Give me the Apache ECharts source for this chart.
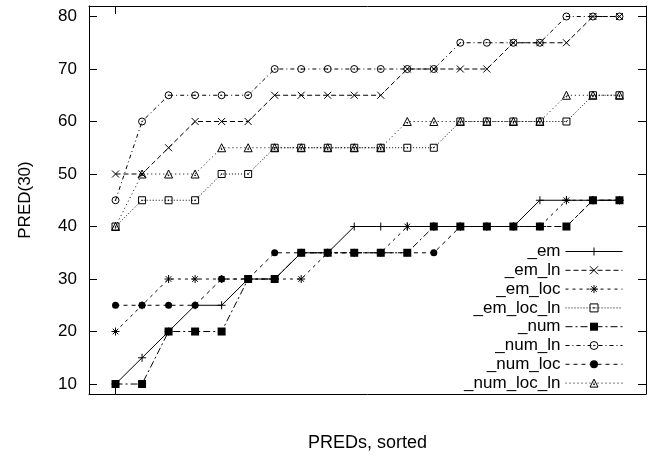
<!DOCTYPE html>
<html>
<head>
<meta charset="utf-8">
<script src="https://cdn.jsdelivr.net/npm/echarts@6/dist/echarts.min.js"></script>
<style>html,body{margin:0;padding:0;background:#fff;}#c{width:656px;height:457px;}</style>
</head>
<body>
<div id="c"></div>
<script>
// position along the sorted x axis (1..20)
const positions = [1,2,3,4,5,6,7,8,9,10,11,12,13,14,15,16,17,18,19,20];
const yTicks = [10,20,30,40,50,60,70,80];
const xTicks = [1];
const seriesNames = ['_em','_em_ln','_em_loc','_em_loc_ln','_num','_num_ln','_num_loc','_num_loc_ln'];

const em         = [10,15,20,25,25,30,30,35,35,40,40,40,40,40,40,40,45,45,45,45];
const em_ln      = [50,50,55,60,60,60,65,65,65,65,65,70,70,70,70,75,75,75,80,80];
const em_loc     = [20,25,30,30,30,30,30,30,35,35,35,40,40,40,40,40,40,45,45,45];
const em_loc_ln  = [40,45,45,45,50,50,55,55,55,55,55,55,55,60,60,60,60,60,65,65];
const num        = [10,10,20,20,20,30,30,35,35,35,35,35,40,40,40,40,40,40,45,45];
const num_ln     = [45,60,65,65,65,65,70,70,70,70,70,70,70,75,75,75,75,80,80,80];
const num_loc    = [25,25,25,25,30,30,35,35,35,35,35,35,35,40,40,40,40,40,45,45];
const num_loc_ln = [40,50,50,50,55,55,55,55,55,55,55,60,60,60,60,60,60,65,65,65];

const values = [em, em_ln, em_loc, em_loc_ln, num, num_ln, num_loc, num_loc_ln];

const FONT = '"Liberation Sans", Arial, Helvetica, sans-serif';
const open = {color:'transparent', borderColor:'#000', borderWidth:1};
const filled = {color:'#000', borderColor:'#000', borderWidth:0};
const styles = [
  {symbol:'path://M0,5L10,5M5,0L5,10', size:8, item:open, dash:'solid'},
  {symbol:'path://M0,0L10,10M0,10L10,0', size:7, item:open, dash:[5,3]},
  {symbol:'path://M0,5L10,5M5,0L5,10M1.5,1.5L8.5,8.5M1.5,8.5L8.5,1.5', size:8, item:open, dash:[3,4]},
  {symbol:'path://M0,0L10,0L10,10L0,10ZM4.6,4.6L5.4,4.6L5.4,5.4L4.6,5.4Z', size:7, item:open, dash:[1,2]},
  {symbol:'rect', size:8, item:filled, dash:[7,3,2,3]},
  {symbol:'path://M0,5A5,5 0 1,0 10,5A5,5 0 1,0 0,5ZM4.6,4.6L5.4,4.6L5.4,5.4L4.6,5.4Z', size:7, item:open, dash:[4,3,1,3]},
  {symbol:'circle', size:7, item:filled, dash:[4,4]},
  {symbol:'path://M5,0L10,9L0,9ZM4.6,5.6L5.4,5.6L5.4,6.4L4.6,6.4Z', size:8, item:open, dash:[1,3]}
];

const series = seriesNames.map((name, i) => ({
  name: name,
  type: 'line',
  data: positions.map((p, j) => [p, values[i][j]]),
  symbol: styles[i].symbol,
  symbolSize: styles[i].size,
  showSymbol: true,
  showAllSymbol: true,
  itemStyle: styles[i].item,
  lineStyle: {color:'#000', width:1, type: styles[i].dash},
  emphasis: {disabled:true},
  animation: false
}));

const legendData = seriesNames.map((name, i) => ({
  name: name,
  itemStyle: Object.assign({}, styles[i].item),
  lineStyle: {color:'#000', width:1, type: styles[i].dash}
}));

const chart = echarts.init(document.getElementById('c'), null, {renderer:'canvas'});
const Y_MIN = 8.1, Y_MAX = 82;
chart.setOption({
  animation: false,
  backgroundColor: '#fff',
  textStyle: {fontFamily: FONT, color:'#000'},
  grid: {left: 89, right: 10, top: 6, bottom: 59, containLabel:false},
  xAxis: [
    {type:'value', min:0, max:21, position:'bottom',
     name:'PREDs, sorted', nameLocation:'middle', nameGap:40,
     nameTextStyle:{fontSize:18, fontFamily:FONT, color:'#000'},
     axisLine:{show:true, lineStyle:{color:'#000', width:1}},
     axisTick:{show:true, inside:true, length:8, customValues:xTicks, lineStyle:{color:'#000'}},
     axisLabel:{show:false}, splitLine:{show:false}},
    {type:'value', min:0, max:21, position:'top',
     axisLine:{show:true, onZero:false, lineStyle:{color:'#000', width:1}},
     axisTick:{show:true, inside:true, length:8, customValues:xTicks, lineStyle:{color:'#000'}},
     axisLabel:{show:false}, splitLine:{show:false}}
  ],
  yAxis: [
    {type:'value', min:Y_MIN, max:Y_MAX, position:'left',
     name:'PRED(30)', nameLocation:'middle', nameRotate:90, nameGap:55,
     nameTextStyle:{fontSize:17, fontFamily:FONT, color:'#000'},
     axisLine:{show:true, onZero:false, lineStyle:{color:'#000', width:1}},
     axisTick:{show:true, inside:true, length:8, customValues:yTicks, lineStyle:{color:'#000'}},
     axisLabel:{show:true, customValues:yTicks, margin:12, fontSize:17, fontFamily:FONT, color:'#000'},
     splitLine:{show:false}},
    {type:'value', min:Y_MIN, max:Y_MAX, position:'right',
     axisLine:{show:true, onZero:false, lineStyle:{color:'#000', width:1}},
     axisTick:{show:true, inside:true, length:8, customValues:yTicks, lineStyle:{color:'#000'}},
     axisLabel:{show:false}, splitLine:{show:false}}
  ],
  legend: {
    data: legendData,
    orient:'vertical', align:'right', right:33, top:243, padding:0,
    itemWidth:57, itemHeight:10, itemGap:1.8,
    selectedMode:false,
    textStyle:{fontSize:17, fontFamily:FONT, color:'#000'}
  },
  series: series
});
</script>
</body>
</html>
